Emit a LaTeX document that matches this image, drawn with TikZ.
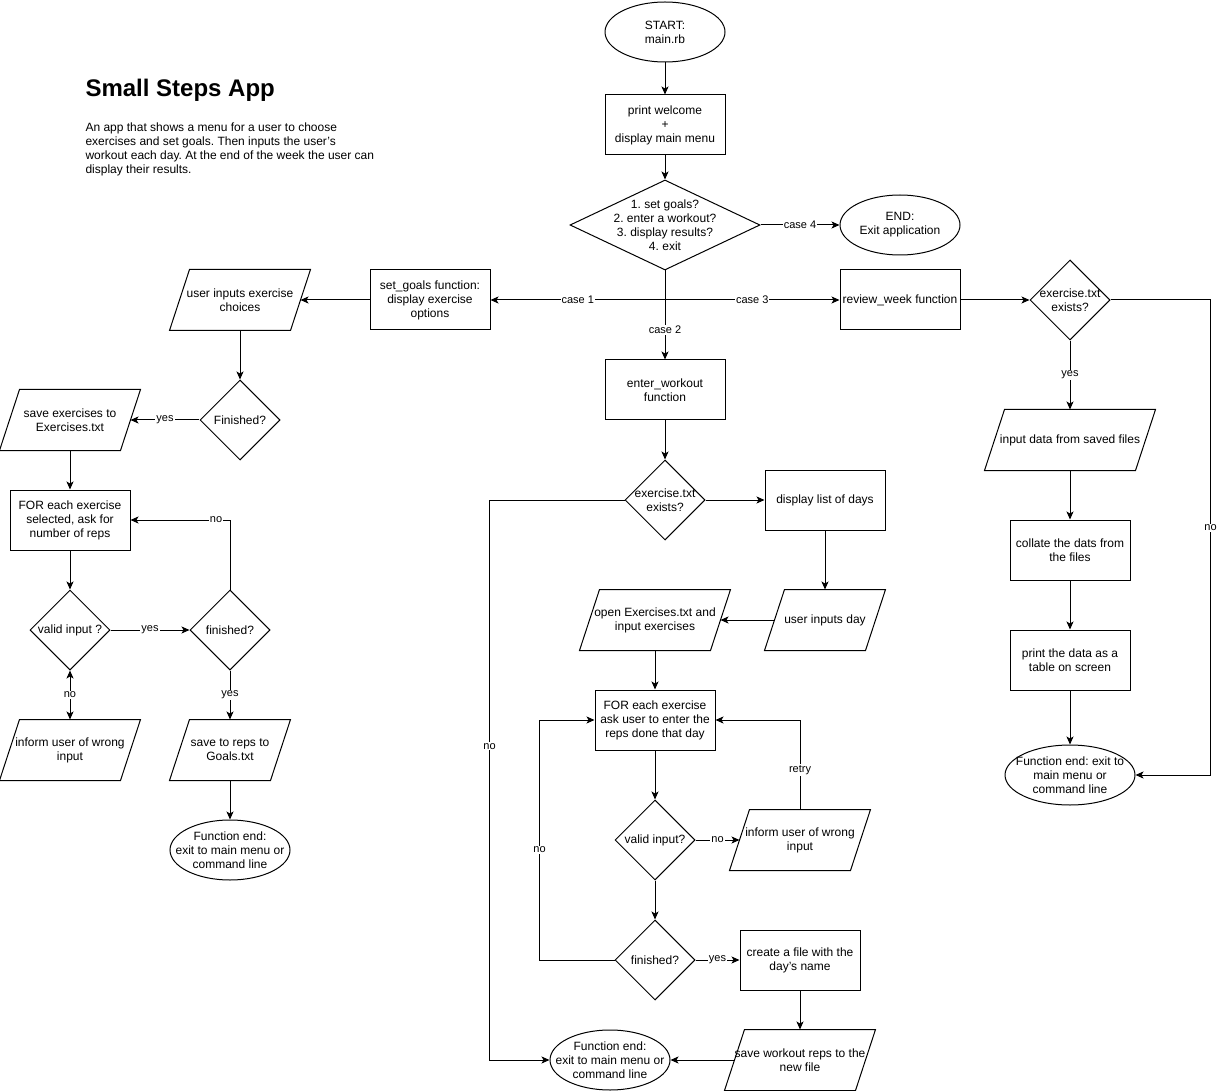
\documentclass[tikz,border=0pt]{standalone}
\usepackage{fontspec}
\setmainfont{Liberation Sans}
\usetikzlibrary{shapes.geometric, arrows.meta, positioning}
\frenchspacing

\newcommand{\boxfont}{\fontsize{12}{14}\selectfont}
\newcommand{\edgefont}{\fontsize{11}{13}\selectfont}

\tikzset{
    proc/.style={draw, rectangle, minimum width=120pt, minimum height=60pt, align=center, font=\boxfont, inner sep=1pt},
    term/.style={draw, ellipse, minimum width=#1, minimum height=60pt, inner sep=0pt},
    term/.default=120pt,
    dec/.style={draw, diamond, minimum width=80pt, minimum height=80pt, inner sep=0pt},
    io/.style={rectangle, minimum width=#1-20pt, minimum height=60pt, inner sep=0pt,
        append after command={\pgfextra{\draw ([xshift=10pt]\tikzlastnode.north west) -- ([xshift=10pt]\tikzlastnode.north east)
            -- ([xshift=-10pt]\tikzlastnode.south east) -- ([xshift=-10pt]\tikzlastnode.south west) -- cycle;}}},
    io/.default=140pt,
    say/.style={label={[align=center, font=\boxfont, inner sep=0pt]center:{#1}}},
    lbl/.style={fill=white, inner sep=1pt, font=\edgefont},
    flow/.style={-{Stealth[length=8pt, width=7pt, inset=2pt]}},
    both/.style={{Stealth[length=8pt, width=7pt, inset=2pt]}-{Stealth[length=8pt, width=7pt, inset=2pt]}},
}

\begin{document}
\begin{tikzpicture}[x=1pt, y=-1pt, line width=1pt]
    \useasboundingbox (0,0) rectangle (1219,1091);

    % Title and description
    \node[anchor=west, font=\fontsize{24}{28}\selectfont\bfseries, inner sep=0pt] (title) at (85,90) {Small Steps App};
    \node[anchor=north west, align=left, font=\boxfont, inner sep=0pt] (desc) at (85,122) {An app that shows a menu for a user to choose\\exercises and set goals. Then inputs the user's\\workout each day. At the end of the week the user can\\display their results.};

    % Main menu
    \node[term, say={START:\\main.rb}] (start) at (665,32) {};
    \node[proc] (welcome) at (665,125) {print welcome\\+\\display main menu};
    \node[dec, minimum width=190pt, minimum height=90pt, say={1. set goals?\\2. enter a workout?\\3. display results?\\4. exit}] (menu) at (665,225) {};
    \node[term, say={END:\\Exit application}] (endapp) at (900,225) {};
    \node[proc] (setgoals) at (430,300) {set\_goals function:\\display exercise\\options};
    \node[proc] (review) at (900,300) {review\_week function};
    \node[proc] (enterw) at (665,390) {enter\_workout\\function};

    % Set goals column
    \node[io, say={user inputs exercise\\choices}] (choices) at (240,300) {};
    \node[dec, say={Finished?}] (done1) at (240,420) {};
    \node[io, say={save exercises to\\Exercises.txt}] (saveex) at (70,420) {};
    \node[proc] (reps1) at (70,520) {FOR each exercise\\selected, ask for\\number of reps};
    \node[dec, say={valid input ?}] (valid1) at (70,630) {};
    \node[dec, say={finished?}] (done2) at (230,630) {};
    \node[io, say={inform user of wrong\\input}] (wrong1) at (70,750) {};
    \node[io=120pt, say={save to reps to\\Goals.txt}] (goals) at (230,750) {};
    \node[term, say={Function end:\\exit to main menu or\\command line}] (end1) at (230,850) {};

    % Enter workout column
    \node[dec, say={exercise.txt\\exists?}] (exists1) at (665,500) {};
    \node[proc] (days) at (825,500) {display list of days};
    \node[io=120pt, say={user inputs day}] (day) at (825,620) {};
    \node[io=150pt, say={open Exercises.txt and\\input exercises}] (openex) at (655,620) {};
    \node[proc] (reps2) at (655,720) {FOR each exercise\\ask user to enter the\\reps done that day};
    \node[dec, say={valid input?}] (valid2) at (655,840) {};
    \node[io, say={inform user of wrong\\input}] (wrong2) at (800,840) {};
    \node[dec, say={finished?}] (done3) at (655,960) {};
    \node[proc] (newfile) at (800,960) {create a file with the\\day's name};
    \node[io=150pt, say={save workout reps to the\\new file}] (savework) at (800,1060) {};
    \node[term, say={Function end:\\exit to main menu or\\command line}] (end2) at (610,1060) {};

    % Review week column
    \node[dec, say={exercise.txt\\exists?}] (exists2) at (1070,300) {};
    \node[io=170pt, say={input data from saved files}] (loaddata) at (1070,440) {};
    \node[proc] (collate) at (1070,550) {collate the dats from\\the files};
    \node[proc] (table) at (1070,660) {print the data as a\\table on screen};
    \node[term=130pt, say={Function end: exit to\\main menu or\\command line}] (end3) at (1070,775) {};

    % Menu arrows
    \draw[flow] (start) -- (welcome);
    \draw[flow] (welcome) -- (menu);
    \draw[flow] (menu) -- node[lbl] {case 4} (endapp);
    \draw[flow] (menu.south) |- node[lbl, pos=0.75] {case 1} (setgoals.east);
    \draw[flow] (menu.south) |- node[lbl, pos=0.75] {case 3} (review.west);
    \draw[flow] (menu.south) -- node[lbl, pos=0.67] {case 2} (enterw);

    % Set goals arrows
    \draw[flow] (setgoals) -- (choices);
    \draw[flow] (choices) -- (done1);
    \draw[flow] (done1) -- node[lbl] {yes} (saveex);
    \draw[flow] (saveex) -- (reps1);
    \draw[flow] (reps1) -- (valid1);
    \draw[flow] (valid1) -- node[lbl] {yes} (done2);
    \draw[flow] (done2.north) |- node[lbl, pos=0.57] {no} (reps1.east);
    \draw[both] (valid1) -- node[lbl] {no} (wrong1);
    \draw[flow] (done2) -- node[lbl] {yes} (goals);
    \draw[flow] (goals) -- (end1);

    % Enter workout arrows
    \draw[flow] (enterw) -- (exists1);
    \draw[flow] (exists1) -- (days);
    \draw[flow] (days) -- (day);
    \draw[flow] (day) -- (openex);
    \draw[flow] (openex) -- (reps2);
    \draw[flow] (reps2) -- (valid2);
    \draw[flow] (valid2) -- node[lbl] {no} (wrong2);
    \draw[flow] (wrong2.north) |- node[lbl, pos=0.22] {retry} (reps2.east);
    \draw[flow] (valid2) -- (done3);
    \draw[flow] (done3) -- node[lbl] {yes} (newfile);
    \draw[flow] (done3.west) -- ++(-75,0) |- node[lbl, pos=0.23] {no} (reps2.west);
    \draw[flow] (newfile) -- (savework);
    \draw[flow] (savework) -- (end2);
    \draw[flow] (exists1.west) -- ++(-135,0) |- node[lbl, pos=0.22] {no} (end2.west);

    % Review week arrows
    \draw[flow] (review) -- (exists2);
    \draw[flow] (exists2) -- node[lbl] {yes} (loaddata);
    \draw[flow] (loaddata) -- (collate);
    \draw[flow] (collate) -- (table);
    \draw[flow] (table) -- (end3);
    \draw[flow] (exists2.east) -- ++(100,0) |- node[lbl, pos=0.24] {no} (end3.east);
\end{tikzpicture}
\end{document}
